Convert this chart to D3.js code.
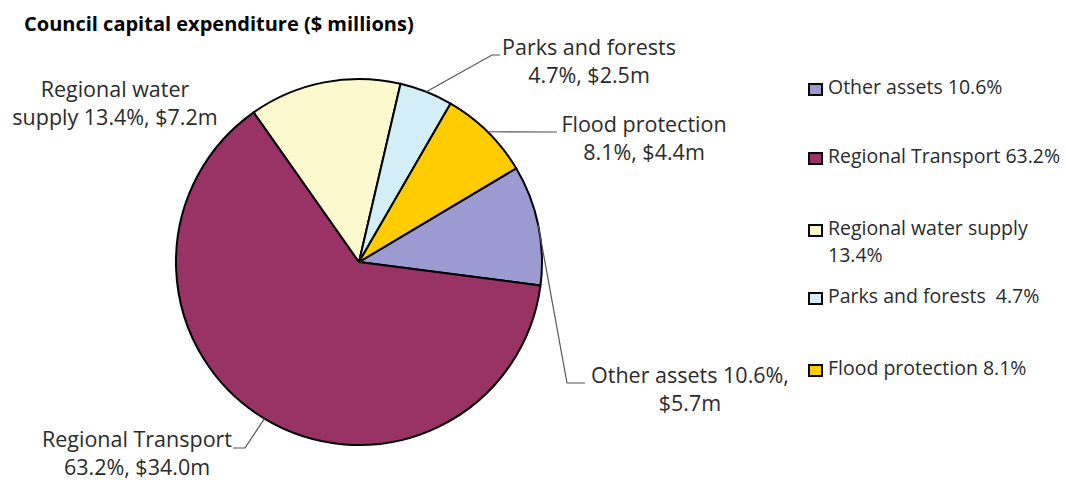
<!DOCTYPE html>
<html>
<head>
<meta charset="utf-8">
<script src="https://cdn.jsdelivr.net/npm/d3@7"></script>
<style>
	body { margin: 0; background: #fff; }
	text { font-family: "Open Sans", Lato, sans-serif; fill: #2b2b2b; white-space: pre; }
</style>
</head>
<body>
<div id="chart"></div>
<script>
// chart data
var categories = ["Other assets", "Regional Transport", "Regional water supply", "Parks and forests", "Flood protection"];
var percents = [10.6, 63.2, 13.4, 4.7, 8.1];
var dollars = [5.7, 34.0, 7.2, 2.5, 4.4];
var colours = ["#9b9bd1", "#993366", "#fdf9cf", "#d3eef6", "#ffcc00"];

var width = 1066,
	height = 480;

var cx = 359, cy = 262, r = 183;
var firstAngle = 59.2 * Math.PI / 180; // first slice starts here, clockwise
var labelSize = 21.5,
	legendSize = 19.5;

var svg = d3.select("#chart").append("svg")
	.attr("width", width)
	.attr("height", height);

svg.append("text")
	.attr("x", 24)
	.attr("y", 31)
	.attr("font-size", 20)
	.attr("font-weight", "bold")
	.style("fill", "#000")
	.text("Council capital expenditure ($ millions)");

var rows = categories.map((c, i) => ({name: c, pct: percents[i], val: dollars[i], col: colours[i]}));

var pie = d3.pie()
	.value(d => d.pct)
	.sort(null)
	.startAngle(firstAngle)
	.endAngle(firstAngle + 2 * Math.PI);

var arc = d3.arc().innerRadius(0).outerRadius(r);

var g = svg.append("g").attr("transform", "translate(" + cx + "," + cy + ")");
var arcs = pie(rows);

g.selectAll("path")
	.data(arcs)
	.enter()
	.append("path")
	.attr("d", arc)
	.attr("fill", d => d.data.col)
	.attr("stroke", "#000")
	.attr("stroke-width", 2)
	.attr("stroke-linejoin", "round");

// data label placement: label centre, how many words on line 1, leader elbow and end
var labelLayout = [
	{x: 690, y: 383, split: 3, elbow: [567, 383], end: [585, 383]},
	{x: 137, y: 447, split: 2, elbow: [245, 448], end: [233, 448]},
	{x: 115, y: 97, split: 2},
	{x: 589, y: 55, split: 3, elbow: [492, 55], end: [500, 55]},
	{x: 644, y: 132, split: 2, elbow: [557, 132], end: [557, 132]}
];

var leaders = svg.append("g");
var labels = svg.append("g");

arcs.forEach(function(a, i){
	let L = labelLayout[i];
	let words = (a.data.name + " " + a.data.pct + "%, $" + a.data.val.toFixed(1) + "m").split(" ");
	let line1 = words.slice(0, L.split).join(" ");
	let line2 = words.slice(L.split).join(" ");

	let t = labels.append("text")
		.attr("font-size", labelSize)
		.attr("text-anchor", "middle");
	t.append("tspan").attr("x", L.x).attr("y", L.y).text(line1);
	t.append("tspan").attr("x", L.x).attr("y", L.y + 28).text(line2);

	if (L.elbow) {
		let mid = (a.startAngle + a.endAngle) / 2;
		let p0 = [cx + r * Math.sin(mid), cy - r * Math.cos(mid)];
		leaders.append("polyline")
			.attr("points", [p0, L.elbow, L.end].map(p => p.join(",")).join(" "))
			.attr("fill", "none")
			.attr("stroke", "#555")
			.attr("stroke-width", 1.2);
	}
});

// legend
var legendY = [94, 163, 235, 303, 375];
var legendText = rows.map(d => d.name === "Parks and forests" ? d.name + "  " + d.pct + "%" : d.name + " " + d.pct + "%");

var legend = svg.append("g");
rows.forEach(function(d, i){
	legend.append("rect")
		.attr("x", 809)
		.attr("y", legendY[i] - 10)
		.attr("width", 13)
		.attr("height", 11)
		.attr("fill", d.col)
		.attr("stroke", "#000")
		.attr("stroke-width", 2);
	let t = legend.append("text")
		.attr("x", 828)
		.attr("y", legendY[i])
		.attr("font-size", legendSize);
	if (d.name === "Regional water supply") {
		t.append("tspan").attr("x", 828).attr("y", legendY[i]).text(d.name);
		t.append("tspan").attr("x", 828).attr("y", legendY[i] + 27).text(d.pct + "%");
	} else {
		t.text(legendText[i]);
	}
});
</script>
</body>
</html>
